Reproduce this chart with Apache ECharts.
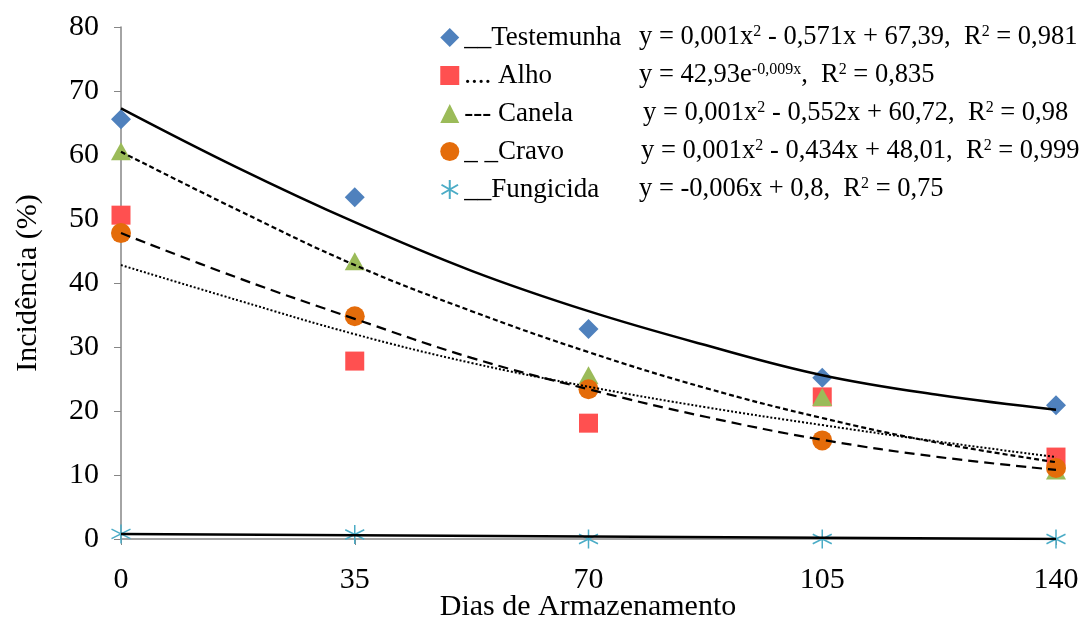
<!DOCTYPE html>
<html>
<head>
<meta charset="utf-8">
<script src="https://cdn.jsdelivr.net/npm/echarts@6/dist/echarts.min.js"></script>
<style>
  html, body { margin: 0; padding: 0; background: #fff; }
  #chart { width: 1085px; height: 617px; }
</style>
</head>
<body>
<div id="chart"></div>
<script>
// observed points
const days = [0, 35, 70, 105, 140];
const testemunha = [65.6, 53.4, 32.8, 25.2, 20.9];
const alho = [50.6, 27.8, 18.1, 22.2, 12.8];
const canela = [60.6, 43.4, 25.6, 22.2, 10.7];
const cravo = [47.8, 34.8, 23.4, 15.4, 11.1];
const fungicida = [0.8, 0.7, 0, 0, 0];

// trend curves
const fitDays = [0, 17.5, 35, 52.5, 70, 87.5, 105, 122.5, 140];
const testemunhaFit = [67.3, 58.0, 49.5, 41.9, 35.6, 30.3, 25.6, 22.5, 20.2];
const alhoFit = [42.8, 37.3, 32.0, 27.5, 23.8, 20.6, 17.8, 15.2, 12.8];
const canelaFit = [60.5, 51.4, 42.8, 35.6, 29.2, 23.6, 18.9, 15.0, 12.0];
const cravoFit = [47.8, 40.8, 34.4, 28.3, 23.4, 19.1, 15.5, 12.8, 10.8];
const fungicidaFitDays = [0, 140];
const fungicidaFit = [0.8, 0.0];

const names = ['__Testemunha', '.... Alho', '--- Canela', '_ _Cravo', '__Fungicida'];
const equations = [
    '{n|y = 0,001x}{s|2}{n| - 0,571x + 67,39,  R}{s|2}{n| = 0,981}',
    '{n|y = 42,93e}{s|-0,009x}{n|,  R}{s|2}{n| = 0,835}',
    '{n|y = 0,001x}{s|2}{n| - 0,552x + 60,72,  R}{s|2}{n| = 0,98}',
    '{n|y = 0,001x}{s|2}{n| - 0,434x + 48,01,  R}{s|2}{n| = 0,999}',
    '{n|y = -0,006x + 0,8,  R}{s|2}{n| = 0,75}'
];
const xTitle = 'Dias de Armazenamento';
const yTitle = 'Incidência (%)';

const font = 'Liberation Serif';
const pairs = (xs, ys) => xs.map((x, i) => [x, ys[i]]);
const asterisk = 'path://M10 0 L10 20 M1.3 5 L18.7 15 M1.3 15 L18.7 5';

const chart = echarts.init(document.getElementById('chart'));

const scatter = (name, values, symbol, size, color, extra) => Object.assign({
    name: name,
    type: 'scatter',
    data: pairs(days, values),
    symbol: symbol,
    symbolSize: size,
    itemStyle: { color: color, opacity: 1 },
    z: 2
}, extra || {});

const trend = (xs, values, width, type) => ({
    type: 'line',
    data: pairs(xs, values),
    smooth: 0.4,
    symbol: 'none',
    silent: true,
    lineStyle: { color: '#000', width: width, type: type },
    z: 3
});

const eqRows = [37, 75, 113, 151, 189];
const eqX = [639, 639, 643, 641, 639];

const eqGraphics = equations.map((t, i) => ({
    type: 'text',
    x: eqX[i],
    y: eqRows[i],
    style: {
        text: t,
        fill: '#000',
        verticalAlign: 'middle',
        rich: {
            n: { fontFamily: font, fontSize: 26.5, fill: '#000' },
            s: { fontFamily: font, fontSize: 16, fill: '#000', verticalAlign: 'top' }
        }
    }
}));

// x-axis title drawn as text so it can sit partly below the bottom edge
eqGraphics.push({
    type: 'text',
    x: 588,
    y: 607,
    style: {
        text: xTitle,
        fill: '#000',
        font: '30px "Liberation Serif"',
        align: 'center',
        verticalAlign: 'middle'
    }
});

const options = {
    animation: false,
    grid: { left: 121, right: 29, top: 27, bottom: 78, containLabel: false, outerBoundsMode: 'none' },
    legend: {
        data: names,
        orient: 'vertical',
        left: 434,
        top: 19,
        itemGap: 11,
        itemWidth: 19,
        itemHeight: 19,
        textStyle: { fontFamily: font, fontSize: 27, color: '#000', lineHeight: 26 }
    },
    xAxis: {
        type: 'value',
        min: 0,
        max: 140,
        interval: 35,
        axisLine: { onZero: false, lineStyle: { color: '#868686', width: 1.5 } },
        axisTick: { show: true, length: 6, lineStyle: { color: '#868686' } },
        axisLabel: { fontFamily: font, fontSize: 30, color: '#000', margin: 26 },
        splitLine: { show: false }
    },
    yAxis: {
        type: 'value',
        min: 0,
        max: 80,
        interval: 10,
        name: yTitle,
        nameLocation: 'middle',
        nameGap: 78,
        nameTextStyle: { fontFamily: font, fontSize: 30, color: '#000' },
        axisLine: { show: true, lineStyle: { color: '#868686', width: 1.5 } },
        axisTick: { show: true, length: 7, lineStyle: { color: '#868686' } },
        axisLabel: { fontFamily: font, fontSize: 30, color: '#000', margin: 22 },
        splitLine: { show: false }
    },
    graphic: eqGraphics,
    series: [
        scatter(names[0], testemunha, 'diamond', [20, 20], '#4F81BD'),
        scatter(names[1], alho, 'rect', [19, 19], '#FF5050'),
        scatter(names[2], canela, 'triangle', [20, 18], '#9BBB59'),
        scatter(names[3], cravo, 'circle', 20, '#E46C0A'),
        scatter(names[4], fungicida, asterisk, 19, '#4BACC6', {
            itemStyle: { color: 'none', borderColor: '#4BACC6', borderWidth: 1.5, opacity: 1 }
        }),
        trend(fitDays, testemunhaFit, 2.5, 'solid'),
        trend(fitDays, alhoFit, 2, [2, 2]),
        trend(fitDays, canelaFit, 2.2, [5, 3]),
        trend(fitDays, cravoFit, 2.2, [10, 6]),
        trend(fungicidaFitDays, fungicidaFit, 2.5, 'solid')
    ]
};
chart.setOption(options);
</script>
</body>
</html>
